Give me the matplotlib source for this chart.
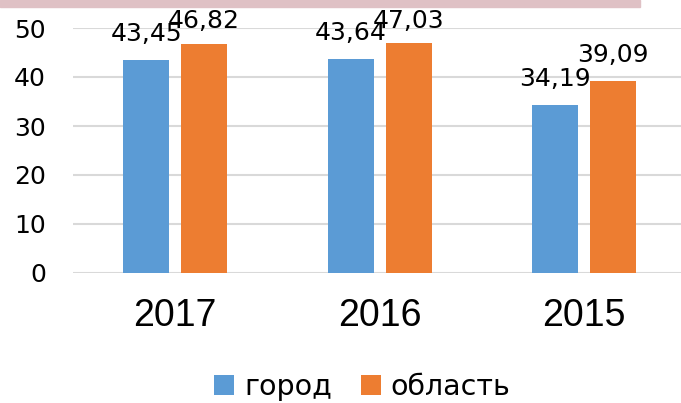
import matplotlib
matplotlib.use("Agg")
import matplotlib.pyplot as plt
import matplotlib.patches as mpatches
import numpy as np

years = ["2017", "2016", "2015"]
gorod = [43.45, 43.64, 34.19]
oblast = [46.82, 47.03, 39.09]
series_names = ["город", "область"]

plt.rcParams["font.family"] = ["DejaVu Sans"]

fig = plt.figure(figsize=(6.81, 4.03), dpi=100)
ax = fig.add_axes([73 / 681, 1 - 273 / 403, 608 / 681, 245 / 403])

# pink strip along the top
fig.patches.append(mpatches.Rectangle((0, 1 - 7 / 403), 640 / 681, 7 / 403,
                                      transform=fig.transFigure, color="#dfc1c5", zorder=0))

x = np.arange(len(years))
w = 0.225
off = 0.142
b1 = ax.bar(x - off, gorod, w, color="#5b9bd5", label=series_names[0], zorder=3)
b2 = ax.bar(x + off, oblast, w, color="#ed7d31", label=series_names[1], zorder=3)

ymax = 50
for bars, vals in ((b1, gorod), (b2, oblast)):
    for r, v in zip(bars, vals):
        # label baseline about 18 px above the bar, kept inside the plot
        ax.text(r.get_x() + r.get_width() / 2, min(v + 3.9, ymax),
                f"{v:.2f}".replace(".", ","), ha="center", va="baseline",
                fontsize=18, zorder=4)

ax.set_ylim(0, ymax)
ax.set_xlim(-0.5, 2.474)
ax.set_yticks(range(0, 51, 10))
ax.set_xticks(x)
ax.set_xticklabels(years, family=["Liberation Sans", "DejaVu Sans"], fontsize=27)
ax.tick_params(axis="y", length=0, pad=19.5, labelsize=18)
ax.tick_params(axis="x", length=0, pad=18)
ax.grid(axis="y", color="#d9d9d9", linewidth=1.5, zorder=0)
for s in ax.spines.values():
    s.set_visible(False)

fig.legend(handles=[b1, b2], loc="center", bbox_to_anchor=(0.532, 0.04), ncol=2,
           frameon=False, handlelength=0.7, handleheight=0.68, handletextpad=0.35,
           columnspacing=1.0, borderpad=0, prop={"size": 20.5})

fig.savefig("out.png", dpi=100)
